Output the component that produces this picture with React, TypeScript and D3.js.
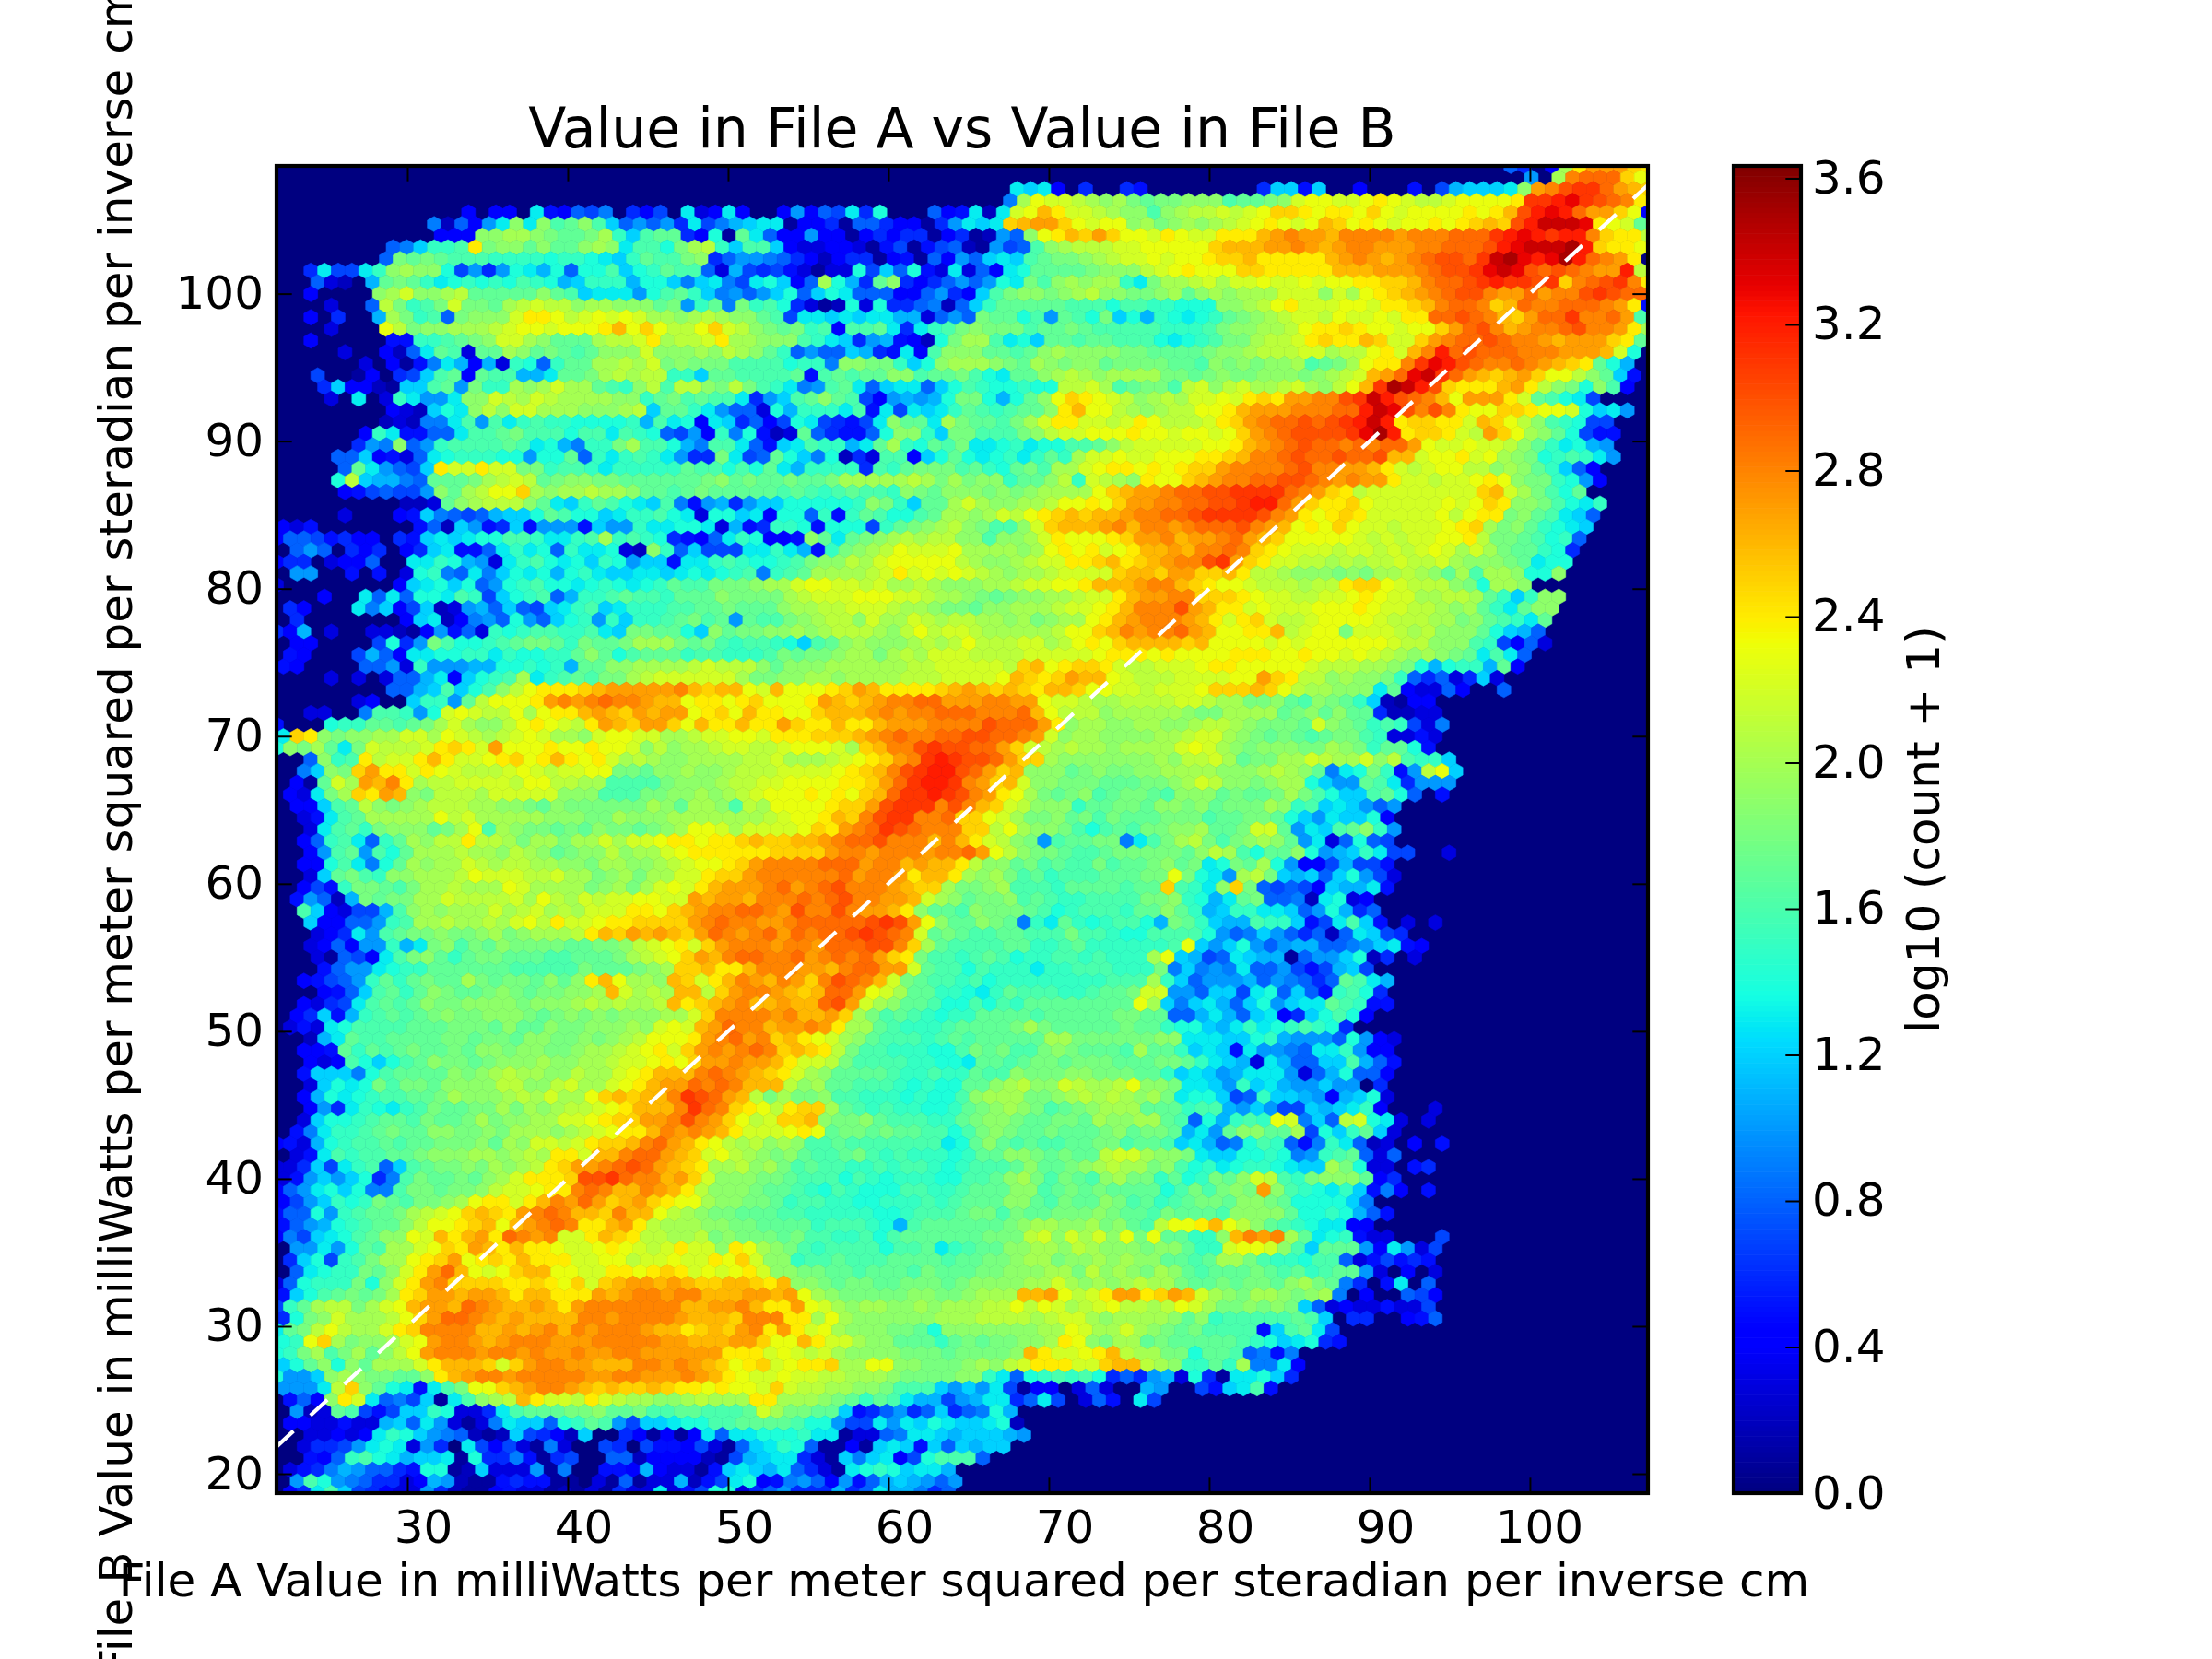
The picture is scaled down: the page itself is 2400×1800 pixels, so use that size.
import React, { useEffect, useRef } from 'react';
import * as d3 from 'd3';

// hexbin cells, one entry per lattice row from the top: "firstColumn:levels"
// each level is a base 36 digit holding log10(count + 1) * 10
const rowLevels = [
  "90:8604korrrpo",
  "91:a0kstttpn",
  "54:dcd4060065000000006cc5c004000507bcccdjrsuvvtrqp",
  "53:9knmmlkjkihiijjjghhijmnnmmnonmllmnnnnovvwxvutso",
  "14:40440d5487906470d34d4004a487d6e000845d2dmnqommlkjjgjkllmlmnpponoonpnmnnnnonoquwxwtrrpn4",
  "11:9284adjdjghjgc8a8a6d79bcdd144618864416adcdpqrrpnmnnjkijkjklmnonmnqpnonmnnonopqpuwyyyxonmh",
  "12:444jjkkjihhikfcghh64e1hd844a4414646614612a8jnoqprpnnmonmmoooqrsrrqssssrssstttvwxwvwwspool",
  "8:89cffgoijjhjhhjkjdggeiklfcggc433443157157821a78gjklllmmnnnnnpqqqrrsrqrssrrrsstttuwxyyyzwpoon",
  "8:8ihihgggffffeffedcfhggij68aa98642466145184a8cdcghiijklmmnmnnoppqoooooqrsrqrstuutvyzxwxzwtsro",
  "2:6d77dfjkjje7a6aedbe8eegcefhgg83b76753133e7c8e53d384dehhhhijjjlmnonnnppoooooqqqrrrstuuvxyxututsrrwl",
  "3:8320bhihfdefefegfebcfffbeec9cd97dec48keb6hj6468a8aedigjkjkkfdikklmkmmnmmnmnnooppqsttuvwvvuvpstuvso",
  "2:40000jkmjjklhhhhhjhgcdddaeghfc9a8ace8ced888448a64cgijjijkljjiijkhjkjkkkmmmjmknopqrstuusrrtrssuvutt",
  "4:3008lifgimiihklmlljkkjjjhiafh9ifge6312e3e668928cfhhhhhgggeggffeeejjklnommmnnmoopqsttspqtsstttsro5",
  "2:40600bkifg8ijjjmoonlmnmnmkkjklkjjhg7ddcdcddbb38a8ihhegahgeicebfedefhijklmmlnmmnmoottutsqprttvsstrg",
  "4:3000nlijjkkklmnnmnnnoqnpnllnpmljihifg4gghd6dfgijiiighhihgggggfffgijjkklnooponnmnnprtusqrsstussrok6",
  "2:40000055ffghijmmkjhhhkllmokllmokkjjjgfdc6ab542eikkgdechhghhgggedefgiikllmopooqpmmprsttutssrqrrrpoh",
  "5:300428dhg3hhkjhihghjjjmjjjkjlkjhf8a88cb65d4gjjjhhghjkjjjjiihhhhijjklllmmkllnomqswtutttsssrrrqme",
  "6:304159db4b3fe8fhhkklkmijiiiggggeff9jjiifcejkkkjihkjijjhiiiihhgjijijjkghiknoosvxwutsstsrqpoheb",
  "3:70014067cgh4hggbbdhhiklkllffchhggggh5ghghhjjghhigedhhjklkjkkkkiihijiijjjijklmqrtxyvtrqpqrpnnljhc5",
  "3:6c4421ccghaiffkjkmkkhgfjlglljiligfd9aghd8cdd8cegfeefeellmkghiiglmjlmkklmkjlnqvzywupoooqroljiejg4",
  "4:30d03fdaadjjmlkmlkkkkjjfhighggd6acghjhg74ababeiiebehjnponmljklkmmnmoporrssuvywutsqnrrromhged7",
  "8:432cedjljmmkkkjjjklchhfda883ebfffdg5d7dcdfhgfghhjoqnnlkjkllnnoqrrrsssttwyxususonnpponnmecda",
  "8:23299dgagdfgffeeeefbgde4dc6847ed7657djhhdkihhgikmoommlmonlllmoprsttutuvwywoppoomqpnljgfe77",
  "6:4fd5588dgghigggeggdgfe87a4f9e523h86558ejjfciigggijlmmnnnonnmnnmnprstuuuuvxzwoppomlrpnkjhe755",
  "6:6a9j8afgggghgdeb9ffikggeb9ggd85cdgffbdhkfehgiddefdeegghjlmmmmmnnoqrstuttststtrnmmnmmljhfdeba",
  "4:88c4538defffeeaeeh8fdfgfda66id78hec9e263gg4cehedefdfhfkmmnmmnnnoopqsstuttuttuqqmnnomnkjiefgfda",
  "5:8hda87commommiifggfdfffffhggegehdbffff6gfhiiighfehigkkmnoononopprsssstussrrqomlmnnlljkjhfc84",
  "4:elcbb98hhhiklmlhijjiihhhhhhijhihhihhikkkkklkikijjfhhjlfmlkjonnpqrssttuutsrsrrommlmmnonjiifea4",
  "5:457877ajhklnnpkjkklkkjhhghihhhhhghgfghggfjihjjjijijkkkknpqrrsttuuvvvvtsrpolmmmmmmmmpqmkigeh",
  "9:223hjkllljhdcfhgedcg95ab6acceeeeefjifchhkmkjjkklnnonprrssttuuvwwtrpoopnmmmmmnmnpojjigedf",
  "5:300045c9878bccehgeecdffged3eecd4ee8f5fhgeeghkkjkmlnopqpqqrssttuvvvvusronopommmmmnlnooijhgdc8",
  "0:4350000000582ca56c5aaa5caafddeed3b56ffe5eee7fhijkljiggjmpqqqrsqssrstttusrqnonpnmmlmmmnopkijhfedc",
  "0:48875644065cdcdeeggfddfgkfgfe6548dfe445jhdhijklklljjgjjkmonnnoprrsqrrstrqpnnnnnmlmlmmnnoliihgef8",
  "1:8a80646046cd558dfde8fdde32jf8c777ddfdb5fijklnmmmnkkkkjknonomnoqqrqsstsponmmmlmmlmlmnmkmkihhfe6",
  "0:4660344800ddfeba3dfgedecfeacc5ddfgfeefgijjlkmnnnnnlkjjklmmoopqopqrssuvrpommllklkllmllmkjjjihdee",
  "1:aa0050503ef98d9cedebefdccddcdedefg9fghkkkklmomnmnmlkjkklmmmmpqqprrppqollkjjjijikklkjhkgkkjeej",
  "0:3000000004cdece8aefgeedefedefhggiiijkkmnnmmlmkklkjjjkklmmnnoqqqrssqponnmlllklloppnmllljiekkj",
  "3:400d8d8eedgf7cefg8bffghggfhhhjiiiiklmmmnnnmmlkkjihijjkklmmoqrrssppponmmllmmnonmmkkllkhfcfjj",
  "1:64000d9c47c23ab8c87cdfgcdfffgghhihhhjkkllmmmlkkjiihjjkkklmmnoqsssurqoomnmmmnnnonmmllkjkhfdhjj",
  "1:600000004cd249a8ea8cefafcffghighahggijklljmkkmlkllkkjkijkknoqrsssrqomopmllmnnnnmlllkkijhgfdh",
  "0:64b030033214a583fefggffgdciihhecjhiijjkjklllkjlnlmmlkkkkklnnpqsrsstrqnnooqlmnnimmmlkljjjhecb8",
  "1:4400007e6aigeefghiihfihhikkkihigfggfecghjkjjjklklnlllmmklnonpqqqqpqnnnnmnmnnnnnnmlljjjgf7483",
  "1:540007b84ddeeffdfeeffhjheghhhfggfffgihiijkkiklkmmmllllmmmmmnooononnnnooonnonnmnmlkjkjihdgd8",
  "0:54000088a3faaabbeefefbhhjjkkkklmllljhjjjkkkkkkllmmmmmlpqnoppomllmmmnoonnnnnmlllkkjiebeffbh4",
  "4:3030388bd4cefgkdfghgiiklmmmmmmkiijjkkjkkkklllmmmmnqpoprqqnmlllmmmmnnrpolljkjjif86836c3",
  "8:88bcgcegjlnooopqrrrrrsqpqqnmqnnnoprqoooopqrqpqpoqqpnnmmlmmmnpppqpnlkkjjjdh43384008",
  "6:3400cffahlnnnorsrstssrqqnoonopnnnorqpqrssttrrrssrrnmmlkkllllmmlkkiijhgjihfc2144",
  "2:33009ggfaemnmllnknooqrqprqrrnopnqoonnpqqqrsrsstttssstqnllljkkkkkjiikkkkhijhjhh62233",
  "0:5000effhhghikmkjjlnonmlorqprrpnqooqoorpooqooqrrrssssutttrojkkjjkkjjkllkjiiihmjihfgf739",
  "0:dpojijjkkmmknmlklmnmkkjmnnmmkklmmnnmooopppqrstssttuuttsrmjkkjjjjkklmmkjihihghiigf3353",
  "0:ejikhdimlllmopomrnnnonnonnmjljkklmmllmnnnmkpqssuvuuttrpmlklkkjkkkkmnmkjijjjiikjifhhe5",
  "2:8jfgolmmoqommnopnoqonomklkjjkkkkllmkkklmnoprsvwvuutrppkjjjjjjjkjllmkhiikkmlkkmjlgffc",
  "2:9cjiproomonmlllmnmlmmnniihjjkjjklllmmmmnopqsuvwwutrpqjjjhijiijjkkkkjjjklkjh9deif5alnc",
  "1:41hmkrqsokllmmmmlnnllkkggggijjjkllmmnnnnooprtvwwvsrpqmjjiiihhhiijkmljjijkkecaahgd6aaa",
  "1:43dikporqjilllkmmmmmjjjgggiijjkjklmnnnononpqtvvwvusronkihijghiihgjjjhihhikigeccghe805",
  "1:44cghljijklllkkjjihjiiiiiikjhkkjglknnnnoppruvvvsusqpmljjjfhhiihjjijhiiikjfgcdca8a",
  "2:35dghkkkkknlmkkkkkjjjiikjjjkkkkkkklmnnoqpsuvvsstppnmkiijhigihhhiiighhiihecadcce4",
  "2:3dghfijjjhikngkjiihihjiihijknnmkmmmmnporstvutssspplnkjjigeghgiijjkhhimmhadcghjfa",
  "2:48fgd8fhkjllollkikkikkmkmmnoonoopqppqqrsttusssqsqomljiaghhii9dgikligijkjhad38e87",
  "2:4aghagehkkklkkjlkjhijjljkkmnoooooopppprssrsssrsstrnljiihgghiiiiihjlkgehhjeabcfd77003",
  "2:44egd9ehkjkkmlkllkkjjikkjjklmnnoprsssstttrssqrqqoljjhighggighhijhideihkea447b775",
  "2:3chigfjjkkklnmmmllmkkijkikkmmopprsssssstrssroqqokjkighfggghhhiiniedaklicbc8cea73",
  "2:475fiihgikklkkknmkkkkijkikmnmoqrrrstrstusssrqppkiijkgggfhhhhghhpgfdjpi87874cbbd5",
  "1:5a82bihiikkmllllmknlkmlmmnnmmrqrrqssststussrrqmkjhiijghgffggggiijfebdhi8892de34",
  "2:gc4377bgjkjkkkmklmklkmmmoonpqrssttsrussusrrqojhhgjiiihgefgggfhhjhfbcffddc8aeb68",
  "2:c4488afgkklkklkmnlommnoopppprstssrrstttttuvurnjhhjih9fdhfefggebihfcbbgffc57dgc50303",
  "3:346daghiijiijkijkkkloqprqrqprtsrstrtsttuvutsmhihgghhgggiggfeeggggea89ca86828dc76",
  "2:3484aafbdijgihjiiiihhiijlmnomprsssrssrtttuuspkhgggghhffghffffffgncacea8abb889acd54",
  "3:31874dgijhfhiihhhgghhhiklmnprqsttsstrststrpoiggfghgeffggfgfffkncb78dcbb18aace2603",
  "3:58aadeffhhhhhhgggggihhhijkppqooqsssrrqsttrrmhggegfffdffgggfffi9c9a9d88a757bc7",
  "2:4578afhfhihhkihiihjhjoqnkkjqpmoqsrqsrpsutsqmihggfgeffffffffgggkfc8aaab8a9868hgdb",
  "3:458cghfhjihhijihiijjkqmklkqqlprssrqpqttrnmkhhffedfhgggffghhimmaa8cc7de8c85fge6",
  "2:4367dghghjiijjjjijjjklklkklqopqrsqqrqqturmkjhhgeegegfhhhhhhhhnkc9cdb8ceacddhgf55",
  "1:46c5bfghghijiijjjihijijijjjkkmpssssrsqqrpkighgfeffhhhhghhhhhiihh88bdb8cd46cege4",
  "1:353degggghhhiiihjhhjiijjjkjmnmqrtssqrrsrokkhgfffghhhhikihhhhhihhfeecbdfdefgfe6",
  "2:2bdhgghhhhiihiihjjiijijklnnnorstrspqonmkjhgggfghghhhhhkkiiiiiijjdddccefbaaa8ea43",
  "2:445hfhghihhihjjijjiijkklmnomprsrstspqpoliggfffeegihiggijihhhgkhhfcdc5daa98ddfa44",
  "2:434geceghjiihijjjkjjkklmmnonprrsrrqommliggggffeedhhghiihiiihhhiihfdcb3db88ccgb85",
  "2:5ccc9eghhhhjijklkkjjlkkmnoqqqstsrqpomkjhhhhgffgffhggjiiijjiiihhfcdcabddda38be884",
  "2:3cedeigiihjjjjlljjlmkkmnoqrrtstsqqqljkhhgggfefeehhjkljjmlkklnjjiddcafcdbaacaa06",
  "2:4bedefgghhikjjjklkmkknpqpqqsvutrqlikiijggfffefeegjkkkiijklklkjkideec78fccba4bce3",
  "2:4a6dfedfgihhiikikjkllmnoqqqsvtsponloppkhgfgffeefhijkjighijkkkhhhfggbaca77cbcdf40003",
  "2:3ceefghhgihhikijjkkmmnopprrsusrpnlmppqjiijhgggffhijjihhiihkjjkkhg8ebfgfnm9c8lmed303",
  "1:59dffghihhjjiijikkkjklmnooqsrsrqommmnonhiihihhggegijihhihhhijhiihbdahjjhhk7ecfhc3",
  "0:453befgghghhiiijhkjmmlmoppqstrqonlkljkjgghgggggggdehjhghgghhiighhgcdb89egf859fd8230405",
  "1:35dgfgghhijjjkkjklkoomqqsttrqpmnlkjijhgghigfgfffefhhjjihihhlmmkjjidcceefe9afgh838",
  "0:336c7dfg8cghiijikjkloprrstutrqpokkljkighggffgfggfefggghjhhijklkkijgefdeffedcckie33056",
  "0:35acace69gihhihjkmooopuuvtssqrpmjjjiihgggegfefffeegghjkigihgjkiifhefihjmlgfijjjh46",
  "0:48adece99giihiijlmmnoostsqqsrqoljjjihhgfegfeeeggffghhhjjghihihhhhegigijirjgfedfc59405",
  "0:47acfefihgiijknoomoqsrtrpqrponnkjjiihfggffeefffgfghhhjjhgihhjighfghiihjjiheeeec9",
  "0:588eafghhiklmnpqporstsqqpsqqnlkjiihhhggfffffeefggghiigihhiiijihhgihhhgjjjjheefeb85",
  "0:58abefghhjlnnopqnqrstsooqrolkkkjjiihhhhfgggfebghhhhhhijkkjjkijhglnnoqnljhgfedd44",
  "0:497cdeghjjnmqoqrotsrsmmoqpollkklijiiihiggffgeghhhhhhiiilmjmkmjninhhffjqsrskhdef5330007",
  "1:aadaehgkkmnporqoqoonmmnonmlmommjonkjigfggggegghdfghhjjkkjlkjjjijjhffmnnmjgchhha4da37",
  "1:6ce7fgikknoprnopoqooommnnlmmnmmonpmjjfgghggghhhhghhiijkkijjkjkjjhhghkkigffegg8357565",
  "1:8deffihjmortqnmnpqqnnmmoonopomnmnomjjiihhghhhgihhhiijjjkkiljkjikjhghhhihghfghha30403",
  "0:38efffiejmorsppppooponpmpqrrqrqppqqpoqjjihiihhiiihijjjjkkmkjkjklkkihhihiihjkih9605d08",
  "0:5ceghihikoprrqrrqoqqooorqrssrssqqqrrqrnkjiiiiijjiijkkkqqrnlmorroprqmkjikkjijk90400874",
  "0:7fhkllikmnqrrqtsrqqrqorsssssssqqrrsqoornmkjkkjjkjkkkllnlnmklmnllklnmkiijijic834335337",
  "0:6eijmkkklnprttsrqrqqqqssrssssrqqqpsssooknkjjjjjjkkkllllklmmkjkkkkjhjfggggghgc06600458",
  "0:dhilnlkkmopssssqqrqrsqsrsssrqqopqprsoromnkjjjiihejjjjjjjkknmkkmkjihigggg5cghd7",
  "0:efnpkijjkmnrssrqrsssrrrsssssrrqqqrrpnnqommkjjhhhfhihiijjkonjikkhihhhhhgfecde65",
  "0:efikgikhjlnrsssrssrsrrsrrssrrrrrrooomnmlmkjjjjiiihiiiijqommnoqlkkiiehhg8959",
  "0:cehjejhkkkmoqqqpmprssrrqqqssrsrqpnopmnoopkknnjjiiijkjlmooommpqqlkjffhfk99d4",
  "0:eaacjkjiihhjoqrssrsssssrrssrrrsrqonmmnmmllkkkjiiiijjfd8efgfge686ab3e61ddec6",
  "0:aaadlpjhed5dginnpqrssrqpqppqpoononnmpmllkkjjigggcacad7144038300ba0075cdg5",
  "1:584jomd897c1dgjklqommlomlkkjjklkkkookkkjihfhgdbb7abdd68d703850d7",
  "1:a23hg757ccfe336dghhhiijhhigghhggghmkiihhc568a68c689eb",
  "1:4433533bc8da3139dcc8efhga7ccdeegghhhhgeea77dadcedccde2",
  "2:33434dfeca98212c7642c00641414d8ddeeefdd13389ddcbcccba",
  "2:3667aded3a60d74731930076075547318cdfe81141cdc5c8cbcc",
  "2:548fgedbccd1e6695167008824444217bcdd631c9cd47eggg8",
  "1:3569ba8865ee12c333a1900554b43315cdcbd8631defecddb",
  "1:agea986634ba2115655110318133b257de459a84a58bcba8a",
  "1:46dgc76433a6211453312131633d357ee368a666b68dbb968",
];

const xTicks = [30, 40, 50, 60, 70, 80, 90, 100];
const yTicks = [20, 30, 40, 50, 60, 70, 80, 90, 100];
const colorTicks = [0, 0.4, 0.8, 1.2, 1.6, 2, 2.4, 2.8, 3.2, 3.6];
const identityLine = [21.84, 107.36];

const titleText = 'Value in File A vs Value in File B';
const xLabel = 'File A Value in milliWatts per meter squared per steradian per inverse cm';
const yLabel = 'File B Value in milliWatts per meter squared per steradian per inverse cm';
const colorLabel = 'log10 (count + 1)';

// jet colormap segments
const jetRed = [[0, 0], [0.35, 0], [0.66, 1], [0.89, 1], [1, 0.5]];
const jetGreen = [[0, 0], [0.125, 0], [0.375, 1], [0.64, 1], [0.91, 0], [1, 0]];
const jetBlue = [[0, 0.5], [0.11, 1], [0.34, 1], [0.65, 0], [1, 0]];

const FONT = '"DejaVu Sans", sans-serif';
const gridX = 100;
const gridY = 57;
const xDomain = [21.84, 107.36];
const yDomain = [18.69, 108.66];
const colorMax = 3.634;

const App: React.FC = () => {
  const svgRef = useRef<SVGSVGElement>(null);

  useEffect(() => {
    if (!svgRef.current) return;
    const svg = d3.select(svgRef.current);
    svg.selectAll('*').remove();

    const left = 300, right = 1788, top = 180, bottom = 1620;
    const cbLeft = 1881, cbRight = 1954;
    const tick = 16.7;

    const x = d3.scaleLinear().domain(xDomain).range([left, right]);
    const y = d3.scaleLinear().domain(yDomain).range([bottom, top]);
    const c = d3.scaleLinear().domain([0, colorMax]).range([bottom, top]);

    // Build jet from its segments
    const channel = (seg: number[][]) =>
      d3.scaleLinear().domain(seg.map(d => d[0])).range(seg.map(d => d[1]));
    const red = channel(jetRed), green = channel(jetGreen), blue = channel(jetBlue);
    const jet = (v: number) => {
      const t = Math.min(1, Math.max(0, v / colorMax));
      return d3.rgb(red(t) * 255, green(t) * 255, blue(t) * 255).formatHex();
    };

    // Plot background is the zero count colour
    svg.append('rect').attr('width', 2400).attr('height', 1800).attr('fill', 'white');
    svg.append('clipPath').attr('id', 'plot').append('rect')
      .attr('x', left).attr('y', top).attr('width', right - left).attr('height', bottom - top);
    const plot = svg.append('g').attr('clip-path', 'url(#plot)');
    plot.append('rect').attr('x', left).attr('y', top)
      .attr('width', right - left).attr('height', bottom - top).attr('fill', jet(0));

    // Hexagon cells from the lattice rows
    const sx = (xDomain[1] - xDomain[0]) / gridX;
    const sy = (yDomain[1] - yDomain[0]) / gridY;
    const cells: { cx: number; cy: number; v: number }[] = [];
    rowLevels.forEach((row, r) => {
      const [start, levels] = row.split(':');
      const offset = r % 2 === 0 ? 0 : 0.5;
      Array.from(levels).forEach((ch, k) => {
        const v = parseInt(ch, 36) / 10;
        if (!v) return;
        cells.push({
          cx: xDomain[0] + (+start + k + offset) * sx,
          cy: yDomain[1] - (r / 2) * sy,
          v,
        });
      });
    });
    const hexShape = [
      [0.5, 1 / 6], [0.5, -1 / 6], [0, -1 / 3], [-0.5, -1 / 6], [-0.5, 1 / 6], [0, 1 / 3],
    ];
    const hexLine = d3.line<number[]>().x(d => d[0]).y(d => d[1]);
    plot.selectAll('path.cell').data(cells).enter().append('path')
      .attr('class', 'cell')
      .attr('d', d => hexLine(hexShape.map(p => [x(d.cx + p[0] * sx), y(d.cy + p[1] * sy)])) + 'Z')
      .attr('fill', d => jet(d.v))
      .attr('stroke', d => jet(d.v))
      .attr('stroke-width', 0.6);

    // y = x reference line
    plot.append('path')
      .attr('d', hexLine(identityLine.map(v => [x(v), y(v)])))
      .attr('fill', 'none').attr('stroke', 'white')
      .attr('stroke-width', 4.2).attr('stroke-dasharray', '25,25');

    const styleAxis = (g: any) => {
      g.select('.domain').remove();
      g.selectAll('.tick line').attr('stroke', 'black').attr('stroke-width', 2);
      g.selectAll('text').attr('fill', 'black').style('font-family', FONT).style('font-size', '50px');
    };

    // Axes with ticks pointing inwards on all four sides
    const xAxisBottom = svg.append('g').attr('transform', `translate(0,${bottom})`)
      .call(d3.axisBottom(x).tickValues(xTicks).tickSize(-tick).tickPadding(18.5)).call(styleAxis);
    // the labels sit a little right of their ticks in the source figure
    xAxisBottom.selectAll('text').attr('dx', (d: any) => (d >= 100 ? 10 : 17));
    svg.append('g').attr('transform', `translate(0,${top})`)
      .call(d3.axisTop(x).tickValues(xTicks).tickSize(-tick).tickFormat(() => '')).call(styleAxis);
    svg.append('g').attr('transform', `translate(${left},0)`)
      .call(d3.axisLeft(y).tickValues(yTicks).tickSize(-tick).tickPadding(14)).call(styleAxis);
    svg.append('g').attr('transform', `translate(${right},0)`)
      .call(d3.axisRight(y).tickValues(yTicks).tickSize(-tick).tickFormat(() => '')).call(styleAxis);
    svg.append('rect').attr('x', left).attr('y', top)
      .attr('width', right - left).attr('height', bottom - top)
      .attr('fill', 'none').attr('stroke', 'black').attr('stroke-width', 4.2);

    // Colorbar
    const steps = d3.range(0, colorMax, colorMax / 256);
    svg.append('g').selectAll('rect').data(steps).enter().append('rect')
      .attr('x', cbLeft).attr('width', cbRight - cbLeft)
      .attr('y', d => c(d + colorMax / 256))
      .attr('height', c(0) - c(colorMax / 256) + 0.6)
      .attr('fill', d => jet(d + colorMax / 512));
    svg.append('g').attr('transform', `translate(${cbRight},0)`)
      .call(d3.axisRight(c).tickValues(colorTicks).tickSize(-tick).tickPadding(12)
        .tickFormat(d3.format('.1f') as any)).call(styleAxis);
    svg.append('rect').attr('x', cbLeft).attr('y', top)
      .attr('width', cbRight - cbLeft).attr('height', bottom - top)
      .attr('fill', 'none').attr('stroke', 'black').attr('stroke-width', 4.2);

    // Titles
    const label = (text: string, size: number, tx: number, ty: number, rot: number) =>
      svg.append('text').text(text)
        .attr('transform', `translate(${tx},${ty}) rotate(${rot})`)
        .attr('text-anchor', 'middle').attr('fill', 'black')
        .style('font-family', FONT).style('font-size', `${size}px`);
    label(titleText, 60, (left + right) / 2, 160, 0);
    label(xLabel, 50, (left + right) / 2 + 2, 1732, 0);
    label(yLabel, 50, 143, (top + bottom) / 2, -90);
    label(colorLabel, 50, 2104, (top + bottom) / 2, -90);
  }, []);

  return (
    <svg
      ref={svgRef}
      width={2400}
      height={1800}
      style={{ position: 'absolute', left: 0, top: 0, display: 'block' }}
    />
  );
};

export default App;
